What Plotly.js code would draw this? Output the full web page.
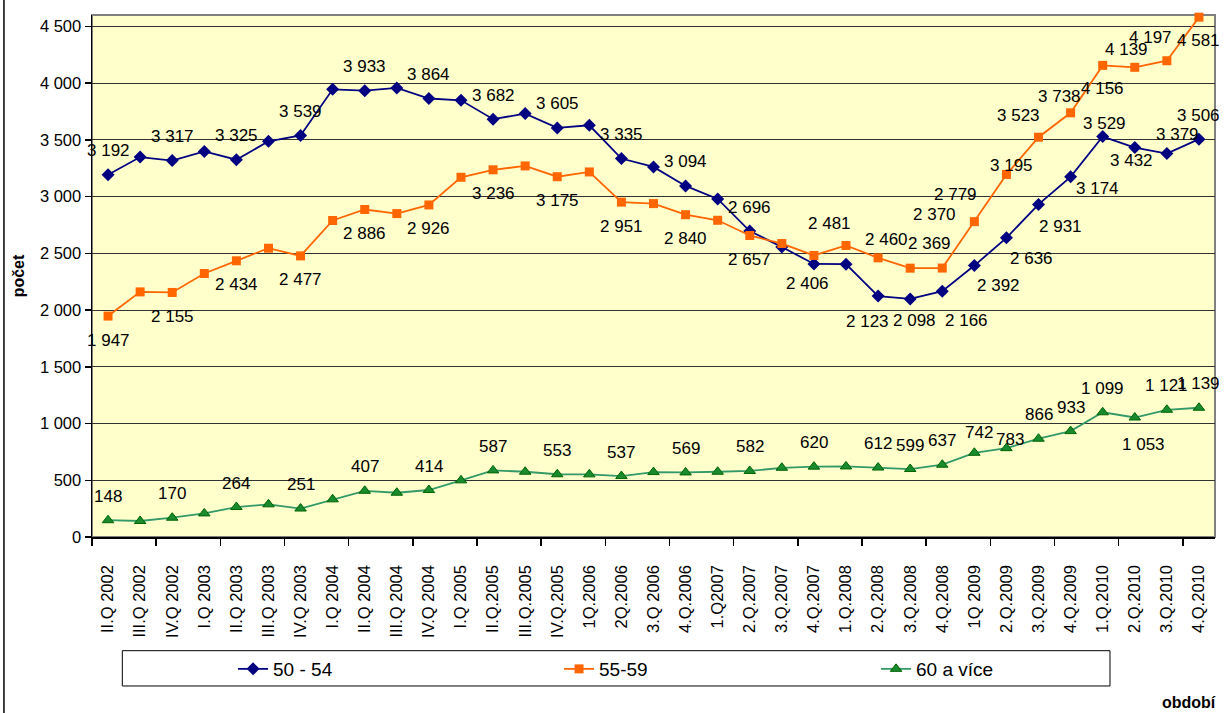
<!DOCTYPE html>
<html>
<head>
<meta charset="utf-8">
<script src="https://cdn.plot.ly/plotly-3.0.1.min.js"></script>
<style>
  html, body { margin: 0; padding: 0; background: #ffffff; }
  #chart { width: 1226px; height: 713px; }
</style>
</head>
<body>
<div id="chart"></div>
<script>
// ---------- DATA ----------
var categories = [
  "II.Q 2002", "III.Q 2002", "IV.Q 2002", "I.Q 2003", "II.Q 2003", "III.Q 2003", "IV.Q 2003",
  "I.Q 2004", "II.Q 2004", "III.Q 2004", "IV.Q 2004", "I.Q 2005", "II.Q.2005", "III.Q.2005",
  "IV.Q.2005", "1Q.2006", "2Q.2006", "3.Q 2006", "4.Q.2006", "1.Q2007", "2.Q.2007", "3.Q.2007",
  "4.Q.2007", "1.Q.2008", "2.Q.2008", "3.Q.2008", "4.Q.2008", "1Q 2009", "2.Q.2009", "3.Q.2009",
  "4.Q.2009", "1.Q.2010", "2.Q.2010", "3.Q.2010", "4.Q.2010"
];

var seriesNames = ["50 - 54", "55-59", "60 a více"];

var values5054 = [
  3192, 3348, 3317, 3398, 3325, 3487, 3539, 3945, 3933, 3957, 3864, 3848, 3682, 3731,
  3605, 3628, 3335, 3261, 3094, 2979, 2696, 2556, 2406, 2404, 2123, 2098, 2166, 2392,
  2636, 2931, 3174, 3529, 3432, 3379, 3506
];

var values5559 = [
  1947, 2160, 2155, 2322, 2434, 2545, 2477, 2789, 2886, 2850, 2926, 3170, 3236, 3270,
  3175, 3217, 2951, 2938, 2840, 2791, 2657, 2586, 2481, 2569, 2460, 2369, 2370, 2779,
  3195, 3523, 3738, 4156, 4139, 4197, 4581
];

var values60 = [
  148, 141, 170, 208, 264, 288, 251, 332, 407, 390, 414, 499, 587, 575,
  553, 552, 537, 572, 569, 575, 582, 610, 620, 622, 612, 599, 637, 742,
  783, 866, 933, 1099, 1053, 1121, 1139
];

// indices of points that carry a value label
var labeledIdx = [0, 2, 4, 6, 8, 10, 12, 14, 16, 18, 20, 22, 24, 25, 26, 27, 28, 29, 30, 31, 32, 33, 34];

var yTickVals = [0, 500, 1000, 1500, 2000, 2500, 3000, 3500, 4000, 4500];

// ---------- STYLE (label offsets in px: [dx, dy], dy positive = down) ----------
var labelDefault = { s0: [0, -24], s1: [0, 24], s2: [0, -24] };
var labelOverride = {
  s0: { 22: [-6, 20], 24: [-11, 25], 25: [4, 22], 26: [24, 29], 27: [24, 20], 28: [25, 21],
        29: [22, 22], 30: [27, 12], 31: [2, -13], 32: [-3, 13], 33: [11, -19], 34: [0, -24] },
  s1: { 22: [16, -32], 24: [8, -18], 25: [19, -25], 26: [-8, -54], 27: [-19, -27], 28: [5, -9],
        29: [-20, -22], 30: [-11, -16], 31: [0, 23], 32: [-8, -18], 33: [-16, -23], 34: [0, 23] },
  s2: { 27: [5, -20], 28: [4, -9], 32: [9, 27] }
};

var FONT = "Liberation Sans, Arial, Helvetica, sans-serif";

function fmt(v) {
  return String(v).replace(/\B(?=(\d{3})+(?!\d))/g, " ");
}

var xIdx = categories.map(function (c, i) { return i; });
var allSeries = [values5054, values5559, values60];

var traces = [
  {
    x: xIdx, y: values5054, name: seriesNames[0], type: "scatter", mode: "lines+markers",
    line: { color: "#000080", width: 1.8 },
    marker: { symbol: "diamond", size: 10, color: "#000080" },
    cliponaxis: false, legendwidth: 281
  },
  {
    x: xIdx, y: values5559, name: seriesNames[1], type: "scatter", mode: "lines+markers",
    line: { color: "#FF6600", width: 1.8 },
    marker: { symbol: "square", size: 9, color: "#FF6600" },
    cliponaxis: false, legendwidth: 272
  },
  {
    x: xIdx, y: values60, name: seriesNames[2], type: "scatter", mode: "lines+markers",
    line: { color: "#339966", width: 1.8 },
    marker: { symbol: "triangle-up", size: 10, color: "#1a8a2e", line: { color: "#006400", width: 1 } },
    cliponaxis: false
  }
];

var annotations = [];
allSeries.forEach(function (vals, s) {
  var key = "s" + s;
  labeledIdx.forEach(function (i) {
    var off = (labelOverride[key] && labelOverride[key][i]) || labelDefault[key];
    annotations.push({
      x: i, y: vals[i], xref: "x", yref: "y",
      text: fmt(vals[i]), showarrow: false,
      xanchor: "center", yanchor: "middle",
      xshift: off[0], yshift: -off[1],
      font: { family: FONT, size: 17, color: "#000000" }
    });
  });
});

// x-axis title (bottom right)
annotations.push({
  xref: "paper", yref: "paper", x: 1.0027, y: -0.318,
  xanchor: "right", yanchor: "middle", showarrow: false,
  text: "období", font: { family: FONT, size: 16, color: "#000000", weight: "bold" }
});

var shapes = [
  // plot area gray border
  { type: "rect", xref: "paper", yref: "paper", x0: 0, x1: 1, y0: 0, y1: 1,
    line: { color: "#808080", width: 2 }, layer: "below" },
  // legend box
  { type: "rect", xref: "paper", yref: "paper", x0: 0.027, x1: 0.9065, y0: -0.2854, y1: -0.2178,
    line: { color: "#000000", width: 1 }, fillcolor: "#ffffff", layer: "below" },
  // outer chart frame (left edge)
  { type: "line", xref: "paper", yref: "paper", x0: -0.0784, x1: -0.0784, y0: -0.34, y1: 1.03,
    line: { color: "#000000", width: 1.5 } }
];

var layout = {
  width: 1226, height: 713,
  margin: { l: 92, r: 11, t: 15, b: 176, pad: 0 },
  paper_bgcolor: "#ffffff",
  plot_bgcolor: "#FFFFCC",
  separators: ", ",
  font: { family: FONT, size: 16.5, color: "#000000" },
  showlegend: true,
  legend: {
    orientation: "h", x: 0.1256, xanchor: "left", y: -0.2529, yanchor: "middle",
    bgcolor: "rgba(0,0,0,0)", borderwidth: 0,
    font: { family: FONT, size: 19, color: "#000000" },
    tracegroupgap: 0
  },
  xaxis: {
    type: "linear", range: [-0.5, 34.5], fixedrange: true,
    tickmode: "array", tickvals: xIdx, ticktext: categories,
    tickangle: -90, ticks: "", ticklen: 0,
    ticklabelstandoff: 20,
    tickfont: { family: FONT, size: 16.5, color: "#000000" },
    showgrid: false, zeroline: false,
    showline: true, linecolor: "#000000", linewidth: 1.5,
    minor: { tickmode: "linear", tick0: -0.5, dtick: 2, ticks: "outside", ticklen: 7,
             tickcolor: "#000000", tickwidth: 1.5, showgrid: false }
  },
  yaxis: {
    range: [0, 4600], fixedrange: true,
    tickmode: "array", tickvals: yTickVals, tickformat: ",d",
    ticks: "outside", ticklen: 6, tickcolor: "#000000", tickwidth: 1.5,
    tickfont: { family: FONT, size: 16.5, color: "#000000" },
    showgrid: true, gridcolor: "#333333", gridwidth: 1,
    zeroline: false,
    showline: true, linecolor: "#000000", linewidth: 1.5,
    title: { text: "počet", standoff: 11, font: { family: FONT, size: 16, color: "#000000", weight: "bold" } }
  },
  annotations: annotations,
  shapes: shapes
};

Plotly.newPlot("chart", traces, layout, { displayModeBar: false, staticPlot: true });
</script>
</body>
</html>
